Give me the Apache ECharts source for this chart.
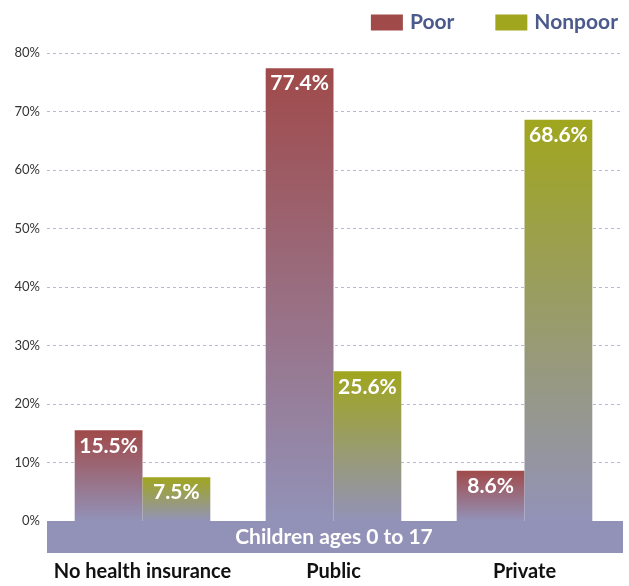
<!DOCTYPE html>
<html>
<head>
<meta charset="utf-8">
<script src="https://cdn.jsdelivr.net/npm/echarts@6/dist/echarts.min.js"></script>
<style>
  html, body { margin: 0; padding: 0; background: #fff; }
  #main { width: 629px; height: 586px; }
</style>
</head>
<body>
<div id="main"></div>
<script>
var categories = ['No health insurance', 'Public', 'Private'];
var poor = [15.5, 77.4, 8.6];
var nonpoor = [7.5, 25.6, 68.6];
var yTicks = [0, 10, 20, 30, 40, 50, 60, 70, 80];

var LAV = '#9292b8';
var FONT = 'Lato';

function grad(top) {
  return new echarts.graphic.LinearGradient(0, 0, 0, 1, [
    { offset: 0, color: top },
    { offset: 1, color: LAV }
  ]);
}

var chart = echarts.init(document.getElementById('main'));

var barLabel = {
  show: true, position: 'insideTop', distance: 5,
  color: '#fff', fontSize: 21, fontWeight: 'bold', fontFamily: FONT,
  formatter: function (p) { return p.value.toFixed(1) + '%'; }
};

var option = {
  animation: false,
  textStyle: { fontFamily: FONT },
  legend: {
    top: 7,
    right: 6,
    itemWidth: 32,
    itemHeight: 16,
    itemGap: 41,
    icon: 'rect',
    textStyle: { fontSize: 21, fontWeight: 'bold', color: '#4b5a8c', fontFamily: FONT, padding: [0, 0, 0, 2] },
    data: [
      { name: 'Poor', itemStyle: { color: '#a04a4a' } },
      { name: 'Nonpoor', itemStyle: { color: '#a0a61e' } }
    ]
  },
  grid: { left: 47, right: 9, top: 53, bottom: 65, containLabel: false },
  xAxis: {
    type: 'category',
    data: categories,
    axisLine: { show: false },
    axisTick: { show: false },
    axisLabel: { interval: 0, margin: 41, fontSize: 20, fontWeight: 'bold', color: '#111', fontFamily: FONT }
  },
  yAxis: {
    type: 'value',
    min: yTicks[0],
    max: yTicks[yTicks.length - 1],
    interval: 10,
    axisLine: { show: false },
    axisTick: { show: false },
    axisLabel: { margin: 7, fontSize: 13, color: '#333', formatter: '{value}%', fontFamily: FONT },
    splitLine: { lineStyle: { color: '#b8b8d6', type: [3, 3], width: 1 } }
  },
  graphic: [
    {
      type: 'rect',
      left: 47, top: 521,
      shape: { width: 576, height: 32 },
      style: { fill: LAV },
      z: 10
    },
    {
      type: 'text',
      x: 334, y: 537,
      style: {
        text: 'Children ages 0 to 17',
        fill: '#fff',
        font: 'bold 21px ' + FONT,
        textAlign: 'center',
        textVerticalAlign: 'middle'
      },
      z: 11
    }
  ],
  series: [
    {
      name: 'Poor',
      type: 'bar',
      data: poor,
      barGap: 0,
      barCategoryGap: '29%',
      itemStyle: { color: grad('#a04a4a') },
      label: barLabel
    },
    {
      name: 'Nonpoor',
      type: 'bar',
      data: nonpoor,
      itemStyle: { color: grad('#a0a61e') },
      label: barLabel
    }
  ]
};

chart.setOption(option);
</script>
</body>
</html>
